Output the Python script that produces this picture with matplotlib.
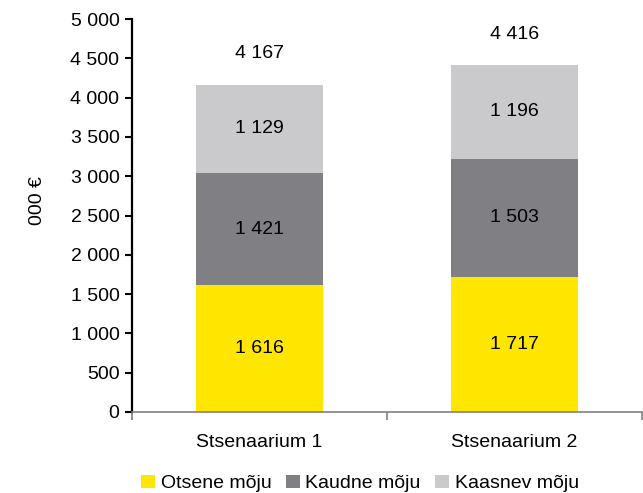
import matplotlib
matplotlib.use("Agg")
import matplotlib.pyplot as plt
import numpy as np

# Andmed
stsenaariumid = ["Stsenaarium 1", "Stsenaarium 2"]
otsene = [1616, 1717]
kaudne = [1421, 1503]
kaasnev = [1129, 1196]
kokku = [4167, 4416]

seeriad = ["Otsene mõju", "Kaudne mõju", "Kaasnev mõju"]
varvid = ["#FFE600", "#807F83", "#CACACC"]

plt.rcParams["font.family"] = ["Liberation Sans Narrow", "Liberation Sans", "DejaVu Sans"]


def tuhanded(v):
    return f"{v:,.0f}".replace(",", " ")


fig = plt.figure(figsize=(6.43, 4.93), dpi=100)
ax = fig.add_axes([132 / 643, 81 / 493, 510 / 643, 393 / 493])

x = np.arange(len(stsenaariumid))
alus = np.zeros(len(x))
for nimi, vaartused, varv in zip(seeriad, [otsene, kaudne, kaasnev], varvid):
    ax.bar(x, vaartused, width=0.5, bottom=alus, color=varv, label=nimi)
    for xi, b, v in zip(x, alus, vaartused):
        ax.text(xi, b + v / 2, tuhanded(v), ha="center", va="center", fontsize=14)
    alus = alus + np.array(vaartused)

# Kogusummad tulpade kohal
for xi, t in zip(x, kokku):
    ax.annotate(tuhanded(t), (xi, t), xytext=(0, 16), textcoords="offset points",
                ha="center", va="bottom", fontsize=14)

ax.set_xlim(-0.5, 1.5)
ax.set_ylim(0, 5000)
ax.set_yticks(np.arange(0, 5001, 500))
ax.set_yticklabels([tuhanded(v) for v in np.arange(0, 5001, 500)], fontsize=14)
ax.set_ylabel("000 €", fontsize=14)
ax.yaxis.set_label_coords(-0.168, 0.537)

ax.set_xticks(x)
ax.set_xticklabels(stsenaariumid, fontsize=14)
ax.tick_params(axis="x", length=0, pad=16)
ax.set_xticks([-0.5, 0.5, 1.5], minor=True)
ax.tick_params(axis="x", which="minor", length=6, color="#808080", width=1.2)
ax.tick_params(axis="y", length=5, width=1.5, pad=4)

for s in ["top", "right"]:
    ax.spines[s].set_visible(False)
ax.spines["left"].set_linewidth(1.6)
ax.spines["bottom"].set_color("#808080")
ax.spines["bottom"].set_linewidth(1.2)

ax.legend(loc="upper center", bbox_to_anchor=(0.5 - 27 / 510, -0.115), ncol=3, frameon=False,
          fontsize=14, handlelength=0.7, handleheight=0.7, handletextpad=0.3,
          columnspacing=0.75)

fig.savefig("out.png", dpi=100)
